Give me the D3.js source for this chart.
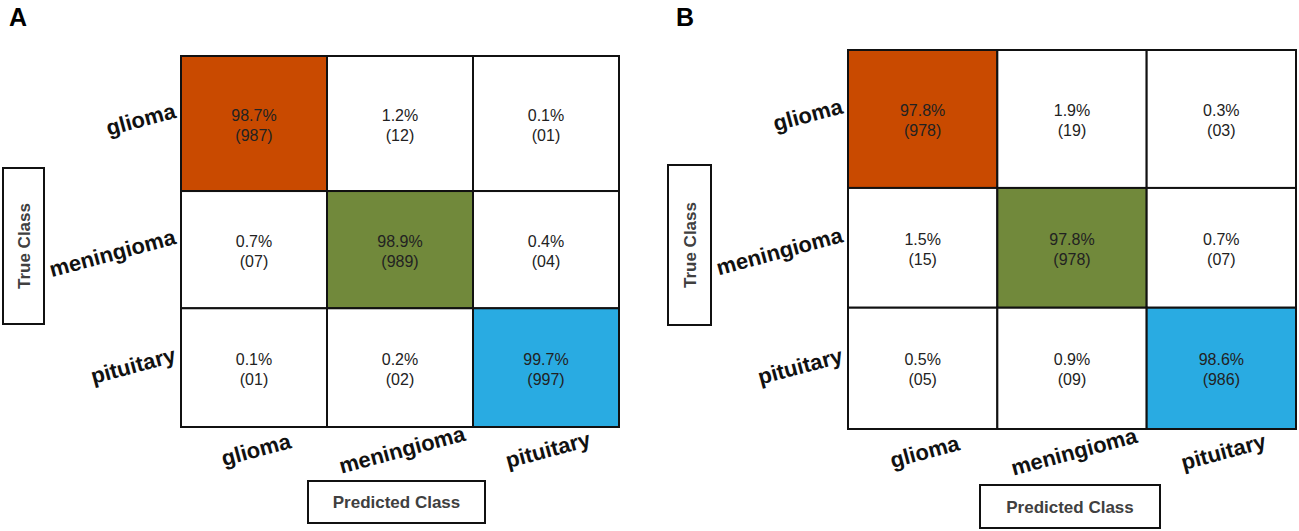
<!DOCTYPE html>
<html><head><meta charset="utf-8">
<script src="https://cdn.jsdelivr.net/npm/d3@7"></script>
<style>body{margin:0;background:#fff}svg{display:block}</style>
</head><body><svg id="c" width="1299" height="531"></svg>
<script>
const classes = ["glioma", "meningioma", "pituitary"];
const panelLabels = ["A", "B"];
// rows = true class, columns = predicted class
const countsA = [
  [987, 12, 1],
  [7, 989, 4],
  [1, 2, 997]
];
const countsB = [
  [978, 19, 3],
  [15, 978, 7],
  [5, 9, 986]
];
const diagColors = ["#C94A00", "#71893B", "#29ABE2"];
const xTitle = "Predicted Class";
const yTitle = "True Class";

const svg = d3.select("#c");
const font = "Liberation Sans, Arial, sans-serif";

const panels = [
  {label: panelLabels[0], counts: countsA, left: 181, top: 56, w: 438, h: 371,
   lx: 9, ly: 26, yBox: {x: 3, y: 168, w: 41, h: 156}, xBox: {x: 308, y: 481, w: 177, h: 42}},
  {label: panelLabels[1], counts: countsB, left: 848, top: 50, w: 448, h: 379,
   lx: 676, ly: 26, yBox: {x: 668, y: 165, w: 43, h: 160}, xBox: {x: 980, y: 485, w: 180, h: 43}}
];
const rowFrac = [0, 0.364, 0.68, 1];
const pct = d3.format(".1f");
const cnt = d3.format("02d");

panels.forEach(p => {
  const g = svg.append("g");
  const x = d3.scaleBand().domain(classes).range([p.left, p.left + p.w]);
  const yTop = d3.scaleOrdinal().domain(classes).range(rowFrac.slice(0, 3).map(f => p.top + f * p.h));
  const yBot = d3.scaleOrdinal().domain(classes).range(rowFrac.slice(1).map(f => p.top + f * p.h));

  const cells = [];
  p.counts.forEach((row, i) => {
    const total = d3.sum(row);
    row.forEach((v, j) => cells.push({t: classes[i], pr: classes[j], v, p: v / total * 100, diag: i === j, i}));
  });

  g.selectAll("rect.cell").data(cells).join("rect")
    .attr("x", d => x(d.pr)).attr("y", d => yTop(d.t))
    .attr("width", x.bandwidth()).attr("height", d => yBot(d.t) - yTop(d.t))
    .attr("fill", d => d.diag ? diagColors[d.i] : "#fff")
    .attr("stroke", "#111").attr("stroke-width", 2);

  const tx = g.selectAll("text.cell").data(cells).join("text")
    .attr("text-anchor", "middle").attr("font-family", font).attr("font-size", 16)
    .attr("fill", "#222");
  tx.append("tspan")
    .attr("x", d => x(d.pr) + x.bandwidth() / 2)
    .attr("y", d => (yTop(d.t) + yBot(d.t)) / 2 - 3)
    .text(d => pct(d.p) + "%");
  tx.append("tspan")
    .attr("x", d => x(d.pr) + x.bandwidth() / 2)
    .attr("y", d => (yTop(d.t) + yBot(d.t)) / 2 + 17)
    .text(d => "(" + cnt(d.v) + ")");

  // y labels
  g.selectAll("text.ylab").data(classes).join("text")
    .attr("text-anchor", "end").attr("font-family", font).attr("font-weight", "bold")
    .attr("font-size", 22).attr("fill", "#111")
    .attr("transform", d => `translate(${p.left - 4},${(yTop(d) + yBot(d)) / 2 - 6}) rotate(-15)`)
    .text(d => d);

  // x labels
  g.selectAll("text.xlab").data(classes).join("text")
    .attr("text-anchor", "middle").attr("font-family", font).attr("font-weight", "bold")
    .attr("font-size", 22).attr("fill", "#111")
    .attr("transform", d => `translate(${x(d) + x.bandwidth() / 2 + 4},${p.top + p.h + 30}) rotate(-15)`)
    .text(d => d);

  // axis title boxes
  g.append("rect").attr("x", p.xBox.x).attr("y", p.xBox.y).attr("width", p.xBox.w).attr("height", p.xBox.h)
    .attr("fill", "#fff").attr("stroke", "#111").attr("stroke-width", 2);
  g.append("text").attr("x", p.xBox.x + p.xBox.w / 2).attr("y", p.xBox.y + p.xBox.h / 2 + 6)
    .attr("text-anchor", "middle").attr("font-family", font).attr("font-weight", "bold")
    .attr("font-size", 17).attr("fill", "#404040").text(xTitle);

  g.append("rect").attr("x", p.yBox.x).attr("y", p.yBox.y).attr("width", p.yBox.w).attr("height", p.yBox.h)
    .attr("fill", "#fff").attr("stroke", "#111").attr("stroke-width", 2);
  g.append("text")
    .attr("transform", `translate(${p.yBox.x + p.yBox.w / 2 + 6},${p.yBox.y + p.yBox.h / 2}) rotate(-90)`)
    .attr("text-anchor", "middle").attr("font-family", font).attr("font-weight", "bold")
    .attr("font-size", 17).attr("fill", "#404040").text(yTitle);

  // panel letter
  g.append("text").attr("x", p.lx).attr("y", p.ly).attr("font-family", font).attr("font-weight", "bold")
    .attr("font-size", 25).attr("fill", "#000").text(p.label);
});
</script></body></html>
